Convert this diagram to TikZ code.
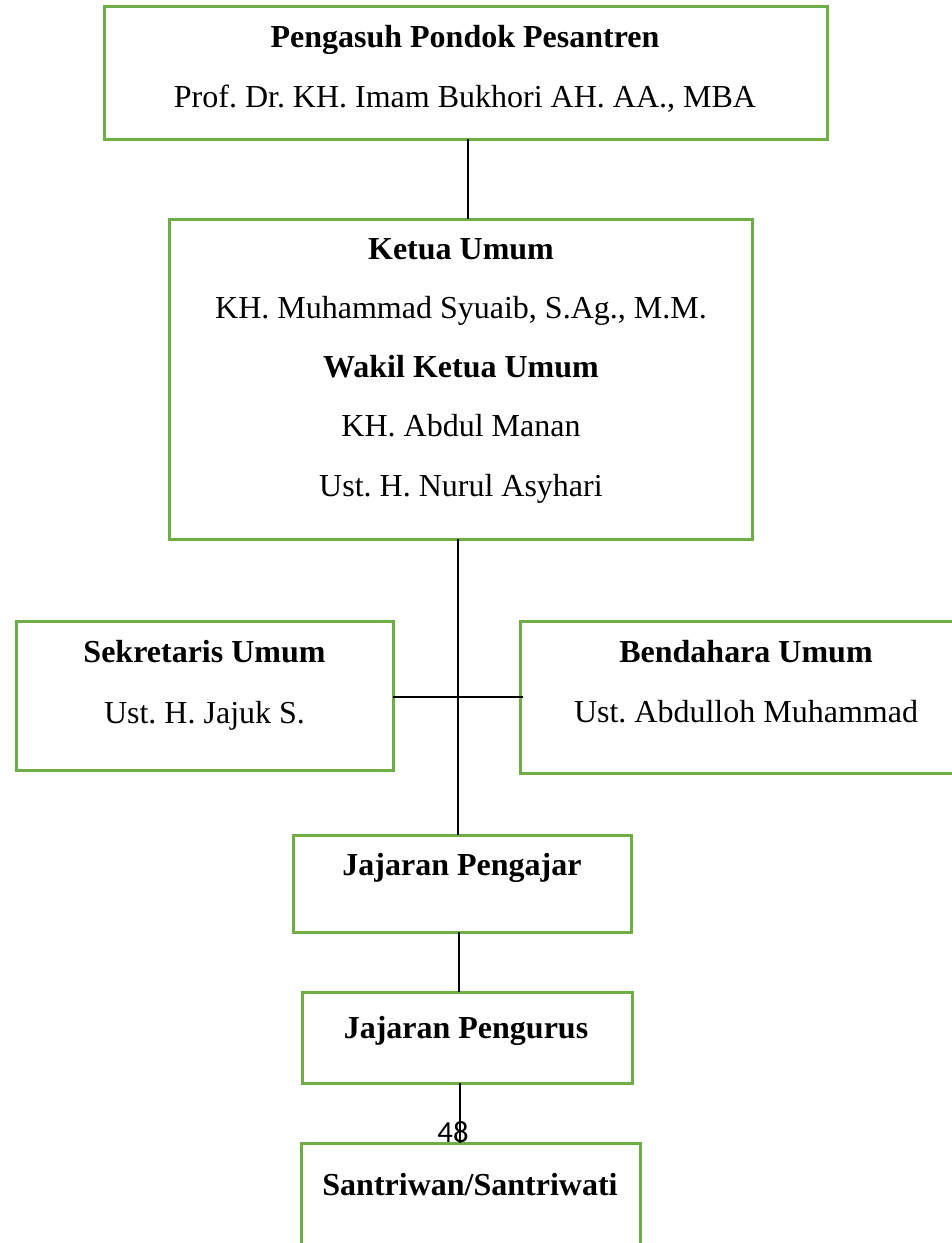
\documentclass[tikz,border=0pt]{standalone}
\usepackage{fontspec}
\setmainfont{Liberation Serif}
\newfontfamily\pagefont{Carlito}
\usetikzlibrary{fit}
\frenchspacing
\definecolor{boxgreen}{RGB}{112,173,71}
\tikzset{
  box/.style={draw=boxgreen, line width=2.25pt, inner sep=0pt, outer sep=0pt, rectangle},
  lbl/.style={anchor=base, inner sep=0pt, font=\fontsize{24}{24}\selectfont},
  hd/.style={lbl, font=\fontsize{24}{24}\selectfont\bfseries},
  conn/.style={draw=black, line width=0.8pt}
}
\begin{document}
\begin{tikzpicture}[x=0.75pt, y=-0.75pt]
\useasboundingbox (0,0) rectangle (952,1243);
\clip (0,0) rectangle (952,1243);
% boxes
\node[box, fit={(104,6) (827,139)}] (b1) {};
\node[box, fit={(169,219) (752,539)}] (b2) {};
\node[box, fit={(16,621) (393,770)}] (sek) {};
\node[box, fit={(520,621) (972,773)}] (bend) {};
\node[box, fit={(293,835) (631,932)}] (ajar) {};
\node[box, fit={(302,992) (632,1083)}] (urus) {};
\node[box, fit={(301,1143) (640,1300)}] (santri) {};
% texts
\node[hd] (t1a) at (465,47) {Pengasuh Pondok Pesantren};
\node[lbl] (t1b) at (465,107) {Prof. Dr. KH. Imam Bukhori AH. AA., MBA};
\node[hd] (t2a) at (461,259) {Ketua Umum};
\node[lbl] (t2b) at (461,318) {KH. Muhammad Syuaib, S.Ag., M.M.};
\node[hd] (t2c) at (461,377) {Wakil Ketua Umum};
\node[lbl] (t2d) at (461,436) {KH. Abdul Manan};
\node[lbl] (t2e) at (461,496) {Ust. H. Nurul Asyhari};
\node[hd] (t3a) at (204.5,662) {Sekretaris Umum};
\node[lbl] (t3b) at (204.5,723) {Ust. H. Jajuk S.};
\node[hd] (t4a) at (746,662) {Bendahara Umum};
\node[lbl] (t4b) at (746,722) {Ust. Abdulloh Muhammad};
\node[hd] (t5) at (462,875) {Jajaran Pengajar};
\node[hd] (t6) at (466,1038) {Jajaran Pengurus};
\node[hd] (t7) at (470,1195) {Santriwan/Santriwati};
% connector x positions
\coordinate (x1) at (468,0);
\coordinate (x2) at (458,697);
\coordinate (x3) at (459,0);
\coordinate (x4) at (460,0);
\coordinate (hend) at (523,697);
% connectors
\draw[conn] (x1 |- b1.south) -- (x1 |- b2.north);
\draw[conn] (x2 |- b2.south) -- (x2 |- ajar.north);
\draw[conn] (sek.east |- x2) -- (hend);
\draw[conn] (x3 |- ajar.south) -- (x3 |- urus.north);
\draw[conn] (x4 |- urus.south) -- (x4 |- santri.north);
% page number
\node[anchor=base, inner sep=0pt, font=\pagefont\fontsize{23}{23}\selectfont] (pg) at (453,1142) {48};
\end{tikzpicture}
\end{document}
